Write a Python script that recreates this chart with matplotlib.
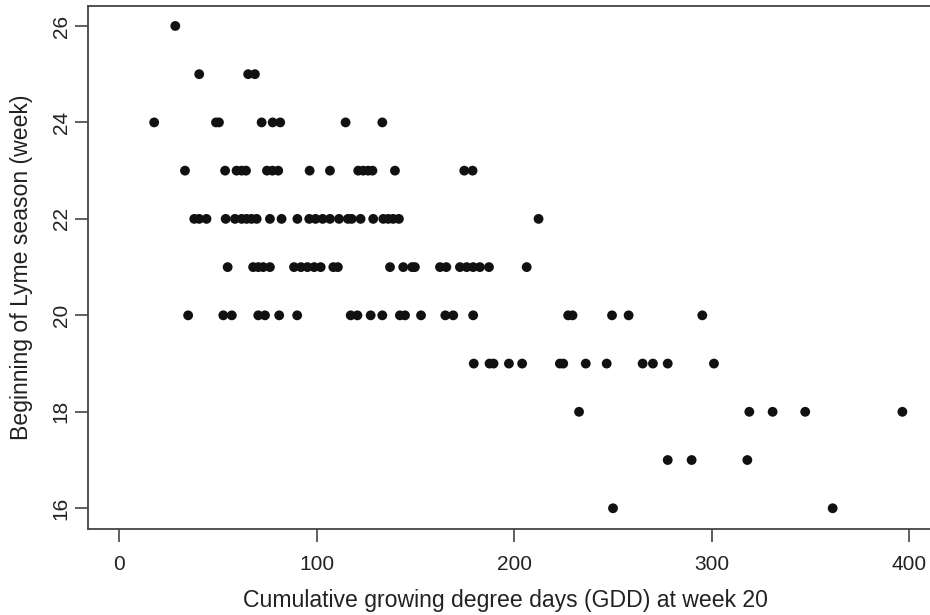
import matplotlib.pyplot as plt

# GDD at week 20 vs. beginning of Lyme season (week)
gdd_26 = [28.4]
gdd_25 = [40.5, 65.3, 68.7]
gdd_24 = [17.7, 49.0, 50.5, 72.1, 77.7, 81.5, 114.6, 133.2]
gdd_23 = [33.3, 53.6, 59.4, 62.0, 64.2, 74.8, 77.6, 80.5, 96.4, 106.7,
          121.0, 123.5, 126.0, 128.2, 139.6, 174.7, 178.9]
gdd_22 = [38.0, 40.5, 44.2, 53.9, 58.6, 62.0, 64.5, 67.0, 69.6, 76.3, 82.2,
          90.2, 96.2, 99.4, 103.0, 106.7, 111.3, 115.8, 117.7, 122.2, 128.6,
          133.7, 136.2, 138.7, 141.6, 212.3]
gdd_21 = [54.9, 67.8, 70.4, 72.9, 76.3, 88.5, 92.0, 95.3, 98.7, 102.0, 108.4,
          110.7, 137.1, 143.8, 148.3, 149.7, 162.4, 165.6, 172.5, 175.9, 179.2,
          182.6, 187.2, 206.3]
gdd_20 = [34.9, 52.7, 57.0, 70.4, 73.8, 81.0, 90.1, 117.2, 120.6, 127.3, 133.2,
          142.1, 144.7, 152.8, 165.1, 169.1, 179.2, 227.3, 229.5, 249.5, 257.9,
          295.2]
gdd_19 = [179.5, 187.5, 189.5, 197.3, 204.0, 223.1, 224.8, 236.2, 246.8,
          265.0, 270.2, 277.7, 301.1]
gdd_18 = [232.8, 319.0, 330.8, 347.3, 396.5]
gdd_17 = [277.7, 289.8, 318.0]
gdd_16 = [250.0, 361.2]

rows = {26: gdd_26, 25: gdd_25, 24: gdd_24, 23: gdd_23, 22: gdd_22,
        21: gdd_21, 20: gdd_20, 19: gdd_19, 18: gdd_18, 17: gdd_17, 16: gdd_16}

gdd = []
week = []
for w, xs in rows.items():
    gdd += xs
    week += [w] * len(xs)

plt.rcParams['font.family'] = ['Liberation Sans', 'DejaVu Sans']
text_col = '#222222'
axis_col = '#444444'

fig = plt.figure(figsize=(9.3, 6.15), dpi=100)
W, H = 930, 615
left, right, top, bottom = 88, 936, 5.7, 529
ax = fig.add_axes([left / W, 1 - bottom / H, (right - left) / W, (bottom - top) / H])

ax.scatter(gdd, week, s=50, color='#111111', edgecolors='none', zorder=3)

ax.set_xlim(-15.8, (right - 119.3) / 1.975)
ax.set_ylim(15.57, 26.42)
ax.set_xticks([0, 100, 200, 300, 400])
ax.set_yticks([16, 18, 20, 22, 24, 26])

for s in ax.spines.values():
    s.set_color(axis_col)
    s.set_linewidth(1.3)

ax.tick_params(axis='both', direction='out', length=9.5, width=1.2,
               color=axis_col, labelcolor=text_col, labelsize=15)
ax.tick_params(axis='x', pad=9)
ax.tick_params(axis='y', pad=3)
for lab in ax.get_yticklabels():
    lab.set_rotation(90)
    lab.set_va('center')

ax.set_xlabel('Cumulative growing degree days (GDD) at week 20',
              fontsize=16.6, color=text_col)
ax.xaxis.set_label_coords((505 - left) / (right - left), -(600 - bottom) / (bottom - top))
ax.xaxis.label.set_va('center')
ax.set_ylabel('Beginning of Lyme season (week)', fontsize=16.6, color=text_col)
ax.yaxis.set_label_coords(-(left - 21.7) / (right - left), 0.5)
ax.yaxis.label.set_va('center')

fig.savefig('out.png', dpi=100)
